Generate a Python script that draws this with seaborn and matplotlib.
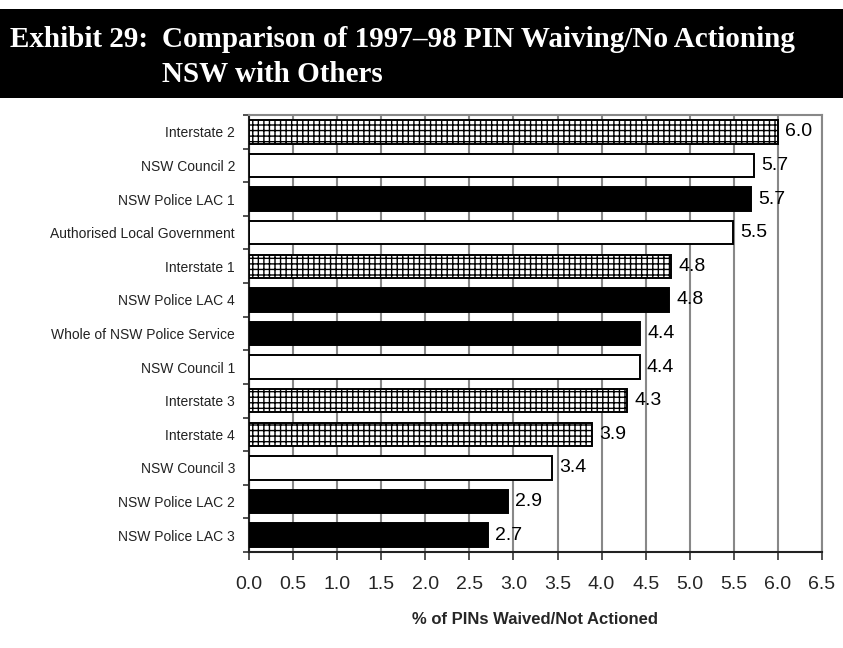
import seaborn as sns
import matplotlib.pyplot as plt
import matplotlib.patches as mpatches
import numpy as np
import pandas as pd

# data
categories = ['Interstate 2', 'NSW Council 2', 'NSW Police LAC 1', 'Authorised Local Government',
              'Interstate 1', 'NSW Police LAC 4', 'Whole of NSW Police Service', 'NSW Council 1',
              'Interstate 3', 'Interstate 4', 'NSW Council 3', 'NSW Police LAC 2', 'NSW Police LAC 3']
values = [6.0, 5.73, 5.70, 5.49, 4.79, 4.77, 4.44, 4.43, 4.29, 3.89, 3.44, 2.94, 2.71]
groups = ['Interstate', 'Council', 'Police', 'Council',
          'Interstate', 'Police', 'Police', 'Council',
          'Interstate', 'Interstate', 'Council', 'Police', 'Police']
xticks = np.arange(0, 6.51, 0.5)

df = pd.DataFrame({'category': categories, 'value': values, 'group': groups})

sns.set_style('white')
plt.rcParams['font.family'] = ['Liberation Sans', 'DejaVu Sans']
plt.rcParams['hatch.linewidth'] = 1.0
plt.rcParams['hatch.color'] = '#222222'

W, H = 843, 648
fig = plt.figure(figsize=(W / 100, H / 100), dpi=100)

# black title band
fig.patches.append(mpatches.Rectangle((0, 1 - 98 / H), 1, 89 / H, transform=fig.transFigure,
                                      facecolor='black', edgecolor='none', zorder=0))
tkw = dict(color='white', fontsize=21, fontweight='bold', family='Liberation Serif', va='baseline')
fig.text(10 / W, 1 - 47 / H, 'Exhibit 29:', **tkw)
fig.text(162 / W, 1 - 47 / H, 'Comparison of 1997\u201398 PIN Waiving/No Actioning', **tkw)
fig.text(162 / W, 1 - 82 / H, 'NSW with Others', **tkw)

ax = fig.add_axes([249 / W, 1 - 552 / H, (822 - 249) / W, (552 - 115) / H])

colors = {'Interstate': 'white', 'Council': 'white', 'Police': 'black'}
sns.barplot(data=df, x='value', y='category', hue='category', dodge=False, legend=False,
            palette=[colors[g] for g in groups], edgecolor='black', linewidth=1.4,
            width=0.7, ax=ax, zorder=3)

for bar, g in zip(ax.patches, groups):
    if g == 'Interstate':
        bar.set_hatch('+++')

for i, v in enumerate(values):
    ax.text(v + 0.08, i, '%.1f' % v, va='center', ha='left', fontsize=14, color='black', zorder=4)

ax.set_xlim(0, 6.5)
ax.set_ylim(12.5, -0.5)
ax.set_xticks(xticks)
ax.set_xticklabels(['%.1f' % t for t in xticks], fontsize=14)
ax.xaxis.grid(True, color='#888888', linewidth=1.5, zorder=0)
ax.set_axisbelow(True)

ax.set_yticks(np.arange(-0.5, 13, 1), minor=True)
ax.tick_params(axis='y', which='major', length=0, pad=10, labelsize=10, labelcolor='#222222')
ax.tick_params(axis='y', which='minor', length=4, width=1.2, color='#333333', left=True)
ax.tick_params(axis='x', which='major', length=6, width=1.2, color='#333333', bottom=True, pad=11)

for s in ['left', 'bottom']:
    ax.spines[s].set_color('#222222')
    ax.spines[s].set_linewidth(1.5)
for s in ['top', 'right']:
    ax.spines[s].set_color('#888888')
    ax.spines[s].set_linewidth(1.5)

ax.set_ylabel('')
ax.set_xlabel('% of PINs Waived/Not Actioned', fontsize=12, fontweight='bold', labelpad=14)

fig.savefig('out.png', dpi=100)
